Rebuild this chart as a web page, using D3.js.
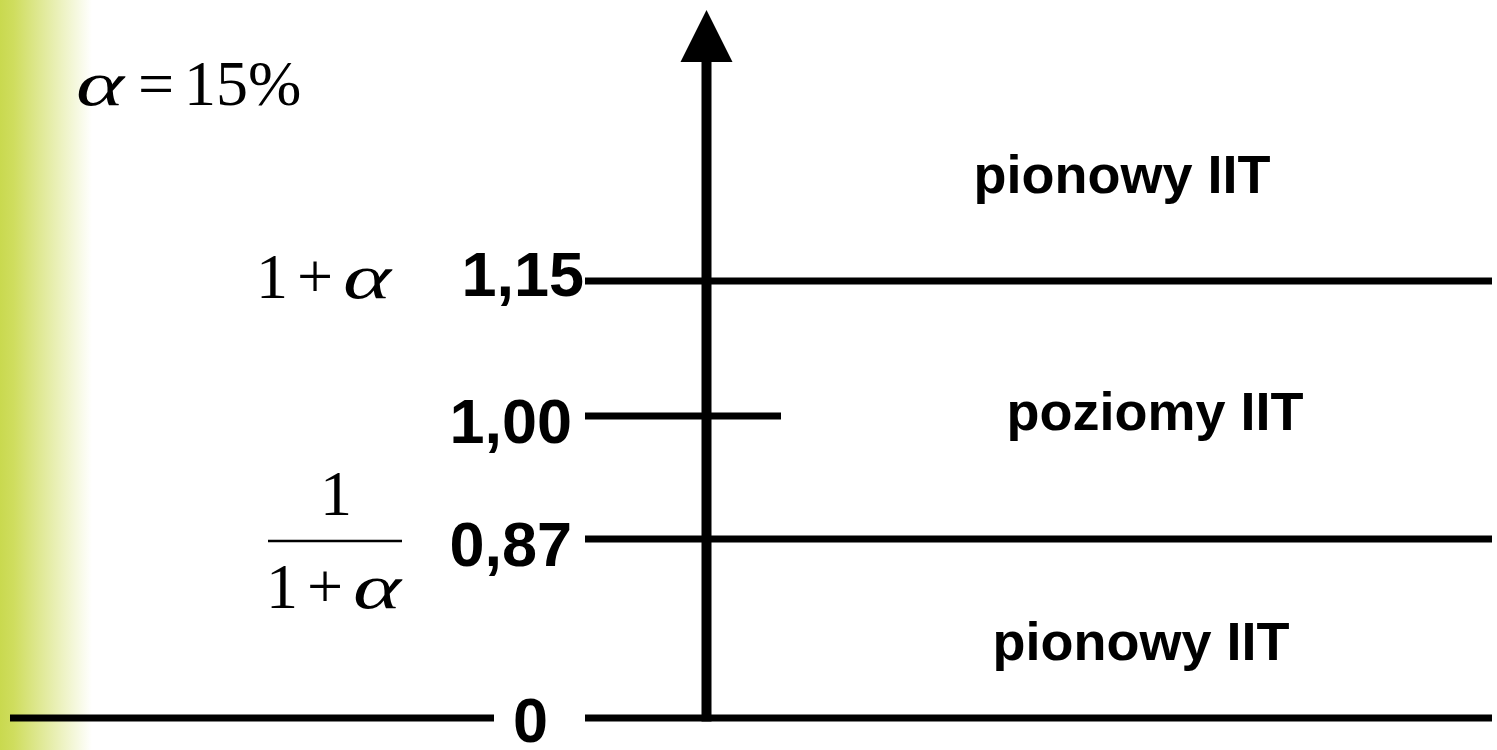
<!DOCTYPE html>
<html>
  <head>
    <meta charset="utf-8">
    <title></title>
    <script type="text/javascript" src="https://d3js.org/d3.v7.min.js"></script>
    <style media="screen">
      body { margin: 0; background: #fff; }
      svg { display: block; }
      .num { font-family: "Liberation Sans", Arial, sans-serif; font-weight: bold; font-size: 63px; }
      .region { font-family: "Liberation Sans", Arial, sans-serif; font-weight: bold; font-size: 54px; }
      .math { font-family: "Liberation Serif", "Times New Roman", serif; font-size: 64px; }
    </style>
  </head>
  <body>
    <div class="vis">
    </div>
    <script type="text/javascript">
      var w = 1497;
      var h = 750;

      // threshold levels on the axis and their labels
      var levels = [0, 0.87, 1.00, 1.15];
      var levelLabels = ["0", "0,87", "1,00", "1,15"];
      // regions between thresholds (bottom, middle, top)
      var regionLabels = ["pionowy IIT", "poziomy IIT", "pionowy IIT"];
      var alphaText = "15%";

      // schematic axis, not to scale -> piecewise scale
      var yscale = d3.scaleLinear()
        .domain([0, 0.87, 1.00, 1.15, 1.5])
        .range([718, 539, 416, 281, 10]);

      var svg = d3.select('.vis')
        .append('svg')
        .attr('width', w)
        .attr('height', h);

      var defs = svg.append('defs');
      var grad = defs.append('linearGradient')
        .attr('id', 'side')
        .attr('x1', '0%').attr('x2', '100%');
      grad.append('stop').attr('offset', '0%').attr('stop-color', '#c9d94f');
      grad.append('stop').attr('offset', '15%').attr('stop-color', '#cfdd5e');
      grad.append('stop').attr('offset', '100%').attr('stop-color', '#ffffff');

      svg.append('rect')
        .attr('x', 0).attr('y', 0)
        .attr('width', 92).attr('height', h)
        .attr('fill', 'url(#side)');

      var axisX = 706.5;
      var lineStart = 585, lineEnd = 1492;

      // horizontal threshold lines
      levels.forEach(function(v) {
        var y = yscale(v);
        var x2 = v === 1.00 ? 781 : lineEnd;
        svg.append('line')
          .attr('x1', lineStart).attr('x2', x2)
          .attr('y1', y).attr('y2', y)
          .attr('stroke', '#000').attr('stroke-width', 7);
      });
      // the zero line also runs left of its label
      svg.append('line')
        .attr('x1', 10).attr('x2', 494)
        .attr('y1', yscale(0)).attr('y2', yscale(0))
        .attr('stroke', '#000').attr('stroke-width', 7);

      // vertical axis with arrow
      svg.append('line')
        .attr('x1', axisX).attr('x2', axisX)
        .attr('y1', yscale(0) + 3.5).attr('y2', 55)
        .attr('stroke', '#000').attr('stroke-width', 10);
      svg.append('path')
        .attr('d', 'M' + axisX + ',' + yscale(1.5) + 'L' + (axisX + 26) + ',62L' + (axisX - 26) + ',62Z')
        .attr('fill', '#000');

      // level labels
      var labelX = [548, 572, 572, 584];
      var labelDy = [24, 27, 27, 15];
      svg.selectAll('text.num')
        .data(levels)
        .enter()
        .append('text')
        .attr('class', 'num')
        .attr('text-anchor', 'end')
        .attr('x', function(d, i) { return labelX[i]; })
        .attr('y', function(d, i) { return yscale(d) + labelDy[i]; })
        .text(function(d, i) { return levelLabels[i]; });

      // region labels
      var regionX = [1141, 1155, 1122];
      var regionY = [660, 430, 193];
      svg.selectAll('text.region')
        .data(regionLabels)
        .enter()
        .append('text')
        .attr('class', 'region')
        .attr('text-anchor', 'middle')
        .attr('x', function(d, i) { return regionX[i]; })
        .attr('y', function(d, i) { return regionY[i]; })
        .text(function(d) { return d; });

      // math annotations
      function alpha(sel, dx) {
        sel.append('tspan').attr('font-style', 'italic')
          .attr('dx', dx)
          .attr('textLength', 48).attr('lengthAdjust', 'spacingAndGlyphs')
          .text('\u03b1');
      }
      var t1 = svg.append('text').attr('class', 'math').attr('x', 76).attr('y', 105);
      alpha(t1, 0);
      t1.append('tspan').attr('dx', 14).text('=');
      t1.append('tspan').attr('dx', 10).text(alphaText);

      function onePlusAlpha(x, y) {
        var t = svg.append('text').attr('class', 'math').attr('x', x).attr('y', y);
        t.append('tspan').text('1');
        t.append('tspan').attr('dx', 9).text('+');
        alpha(t, 10);
      }
      onePlusAlpha(256, 298);

      svg.append('text').attr('class', 'math')
        .attr('x', 336).attr('y', 515).attr('text-anchor', 'middle').text('1');
      svg.append('line')
        .attr('x1', 268).attr('x2', 402).attr('y1', 541).attr('y2', 541)
        .attr('stroke', '#000').attr('stroke-width', 2.5);
      onePlusAlpha(266, 608);
    </script>
  </body>
</html>
